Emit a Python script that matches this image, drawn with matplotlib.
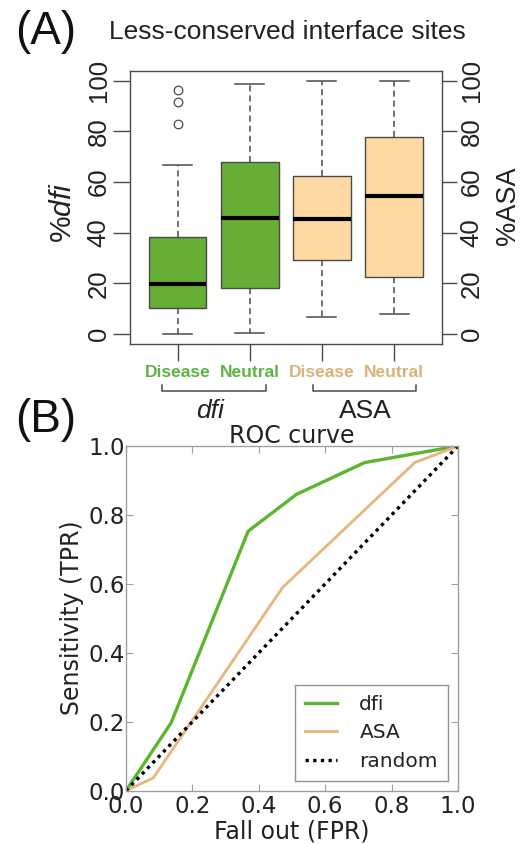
import matplotlib
matplotlib.use("Agg")
import matplotlib.pyplot as plt
from matplotlib.transforms import blended_transform_factory

# ---------------- data ----------------
box_groups = ["dfi", "ASA"]
box_labels = ["Disease", "Neutral", "Disease", "Neutral"]
whisker_low = [0.0, 0.3, 6.8, 7.9]
q1 = [10.1, 18.0, 29.0, 22.4]
medians = [19.7, 45.9, 45.3, 54.4]
q3 = [38.4, 68.1, 62.2, 77.8]
whisker_high = [66.6, 98.6, 100.0, 100.0]
outliers = [[83.0, 91.5, 96.5], [], [], []]
box_ticks = [0, 20, 40, 60, 80, 100]

roc_dfi_fpr = [0.0, 0.136, 0.368, 0.514, 0.719, 1.0]
roc_dfi_tpr = [0.0, 0.197, 0.753, 0.86, 0.952, 1.0]
roc_asa_fpr = [0.0, 0.082, 0.472, 0.87, 1.0]
roc_asa_tpr = [0.0, 0.037, 0.59, 0.952, 1.0]
roc_random = [0.0, 1.0]
roc_ticks = [0.0, 0.2, 0.4, 0.6, 0.8, 1.0]

# ---------------- style ----------------
W, H = 528, 844
fig = plt.figure(figsize=(W / 100, H / 100), dpi=100)
plt.rcParams['mathtext.fontset'] = 'custom'
plt.rcParams['mathtext.rm'] = 'Liberation Sans'
plt.rcParams['mathtext.it'] = 'Liberation Sans:italic'

def fx(px):
    return px / W

def fy(py):
    return 1 - py / H

GREEN_FILL = "#67ae36"
TAN_FILL = "#fed9a3"
GREEN_TXT = "#5db443"
TAN_TXT = "#d9b27a"
fills = [GREEN_FILL, GREEN_FILL, TAN_FILL, TAN_FILL]
txt_colors = [GREEN_TXT, GREEN_TXT, TAN_TXT, TAN_TXT]
SANS = "Liberation Sans"
DARK = "#4a4a4a"

# ---------------- panel A ----------------
ax1 = fig.add_axes([fx(130), fy(344), fx(441.7) - fx(130), fy(70.7) - fy(344)])
positions = list(range(1, len(medians) + 1))
stats = []
for i in range(len(medians)):
    stats.append(dict(whislo=whisker_low[i], q1=q1[i], med=medians[i], q3=q3[i],
                      whishi=whisker_high[i], fliers=outliers[i]))
bp = ax1.bxp(stats, positions=positions, widths=0.8, patch_artist=True,
             capwidths=0.4,
             boxprops=dict(edgecolor=DARK, linewidth=1.0),
             medianprops=dict(color="black", linewidth=3.0, solid_capstyle="butt"),
             whiskerprops=dict(color=DARK, linewidth=1.1, linestyle=(0, (4, 2.6))),
             capprops=dict(color=DARK, linewidth=1.1),
             flierprops=dict(marker="o", markersize=6.2, markerfacecolor="none",
                             markeredgecolor=DARK, markeredgewidth=0.9))
for patch, c in zip(bp["boxes"], fills):
    patch.set_facecolor(c)

ax1.set_xlim(0.34, 4.66)
ax1.set_ylim(-4, 104)
for s in ax1.spines.values():
    s.set_color(DARK)
    s.set_linewidth(1.0)
ax1.set_yticks(box_ticks)
ax1.set_yticklabels([str(t) for t in box_ticks], rotation=90, va="center",
                    fontsize=18.5, family=SANS, color="#222222")
ax1.tick_params(axis="y", direction="out", length=12, width=1.0, color=DARK, pad=2)
ax1.set_xticks(positions)
ax1.set_xticklabels(box_labels, fontsize=12.5, fontweight="bold", family=SANS)
for lab, c in zip(ax1.get_xticklabels(), txt_colors):
    lab.set_color(c)
ax1.tick_params(axis="x", direction="out", length=12, width=1.0, color=DARK, pad=3)

ax1r = ax1.twinx()
ax1r.set_ylim(-4, 104)
ax1r.set_yticks(box_ticks)
ax1r.set_yticklabels([str(t) for t in box_ticks], rotation=90, va="center",
                     fontsize=18.5, family=SANS, color="#222222")
ax1r.tick_params(axis="y", direction="out", length=11, width=1.0, color=DARK, pad=2)
for s in ax1r.spines.values():
    s.set_visible(False)

# brackets under category labels
tr = blended_transform_factory(ax1.transData, ax1.transAxes)
bracket_spans = [(0.78, 2.22), (2.87, 4.30)]
for (x0, x1) in bracket_spans:
    ax1.plot([x0, x0, x1, x1], [-0.150, -0.171, -0.171, -0.150], color=DARK,
             linewidth=1.1, transform=tr, clip_on=False)
ax1.text(1.45, -0.245, "dfi", transform=tr, ha="center", va="center",
         fontsize=19, family=SANS, style="italic", color="#222222")
ax1.text(3.60, -0.245, "ASA", transform=tr, ha="center", va="center",
         fontsize=19, family=SANS, color="#222222")

fig.text(fx(63), fy(213), "%$\\mathit{dfi}$", rotation=90, ha="center", va="center",
         fontsize=21.5, family=SANS, color="#222222")
fig.text(fx(508), fy(206), "%ASA", rotation=90, ha="center", va="center",
         fontsize=19.5, family=SANS, color="#222222")
fig.text(fx(287), fy(32), "Less-conserved interface sites", ha="center", va="center",
         fontsize=19, family=SANS, color="#222222")
fig.text(fx(46), fy(32), "(A)", ha="center", va="center", fontsize=33,
         family=SANS, color="#111111")

# ---------------- panel B ----------------
ax2 = fig.add_axes([fx(126), fy(790.7), fx(458) - fx(126), fy(446) - fy(790.7)])
ax2.plot(roc_dfi_fpr, roc_dfi_tpr, color="#5bb62f", linewidth=2.4, label="dfi")
ax2.plot(roc_asa_fpr, roc_asa_tpr, color="#e9b57d", linewidth=2.0, label="ASA")
ax2.plot(roc_random, roc_random, color="black", linewidth=2.4, linestyle=(0, (1, 1.3)),
         label="random")
ax2.set_xlim(0, 1)
ax2.set_ylim(0, 1)
ax2.set_xticks(roc_ticks)
ax2.set_yticks(roc_ticks)
ax2.set_xticklabels([f"{t:.1f}" for t in roc_ticks])
ax2.set_yticklabels([f"{t:.1f}" for t in roc_ticks])
GRAY = "#a0a0a0"
for s in ax2.spines.values():
    s.set_color(GRAY)
    s.set_linewidth(1.0)
ax2.tick_params(axis="both", direction="in", length=5, width=0.8, color=GRAY,
                top=True, right=True, labelsize=16.5, labelcolor="#222222")
ax2.tick_params(axis="y", pad=1)
ax2.tick_params(axis="x", pad=3)
for lab in ax2.get_xticklabels() + ax2.get_yticklabels():
    lab.set_family("DejaVu Sans")

leg = ax2.legend(loc="lower right", frameon=True, fancybox=False,
                 handlelength=1.6, handletextpad=1.1, borderpad=0.5,
                 labelspacing=0.45, prop=dict(family="DejaVu Sans", size=14.5))
leg.get_frame().set_edgecolor("#777777")
leg.get_frame().set_linewidth(1.0)
for t in leg.get_texts():
    t.set_color("#222222")

ax2.set_title("ROC curve", fontsize=17, family="DejaVu Sans", color="#222222", pad=2)
fig.text(fx(72), fy(618), "Sensitivity (TPR)", rotation=90, ha="center", va="center",
         fontsize=17, family="DejaVu Sans", color="#222222")
fig.text(fx(292), fy(831), "Fall out (FPR)", ha="center", va="center",
         fontsize=17, family="DejaVu Sans", color="#222222")
fig.text(fx(46), fy(420), "(B)", ha="center", va="center", fontsize=33,
         family=SANS, color="#111111")

fig.savefig("out.png", dpi=100)
